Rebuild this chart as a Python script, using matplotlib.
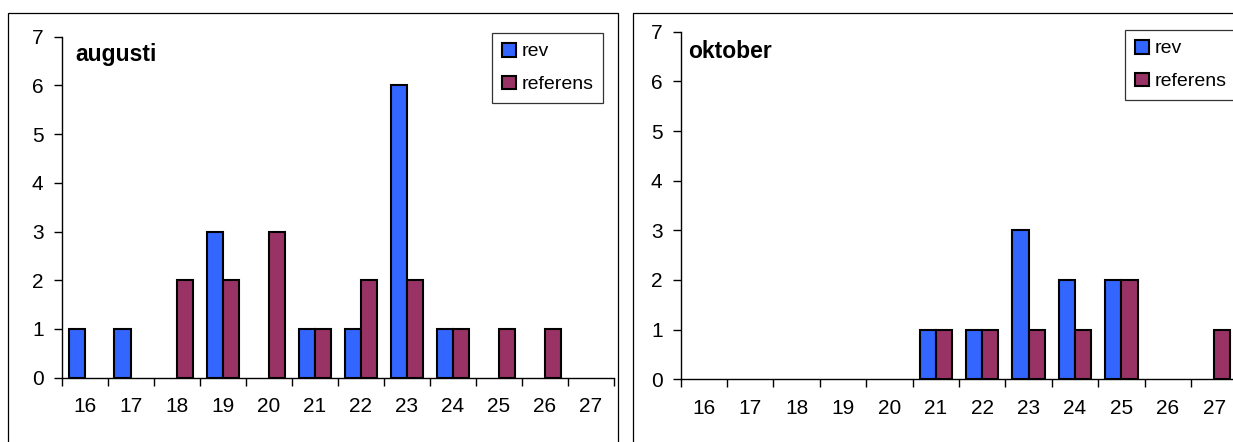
import matplotlib
matplotlib.use("Agg")
from matplotlib import pyplot as plt
from matplotlib.patches import Rectangle
import numpy as np

plt.rcParams['font.family'] = ['Liberation Sans', 'DejaVu Sans']

days = ["16", "17", "18", "19", "20", "21", "22", "23", "24", "25", "26", "27"]
aug_rev = [1, 1, 0, 3, 0, 1, 1, 6, 1, 0, 0, 0]
aug_ref = [0, 0, 2, 2, 3, 1, 2, 2, 1, 1, 1, 0]
okt_rev = [0, 0, 0, 0, 0, 1, 1, 3, 2, 2, 0, 0]
okt_ref = [0, 0, 0, 0, 0, 1, 1, 1, 1, 2, 0, 1]

blue = "#3366ff"
maroon = "#993366"
W, H = 1233, 442

fig = plt.figure(figsize=(W / 100, H / 100), dpi=100)

# outer chart frames (pixel coords -> figure fraction)
for x0, x1 in [(8, 618), (633, 1240)]:
    fig.add_artist(Rectangle((x0 / W, -0.1), (x1 - x0) / W, 1.1 - 13 / H,
                             transform=fig.transFigure, fill=False,
                             edgecolor="black", linewidth=0.9))


def panel(left, y0, y7, step, title, title_xy, rev, ref, leg_xy):
    ax = fig.add_axes([left / W, (H - y0) / H, 12 * step / W, (y0 - y7) / H])
    x = np.arange(len(days))
    rev = np.array(rev)
    ref = np.array(ref)
    w = 0.35
    # empty days get no bar at all (like the original)
    ax.bar(x[rev > 0] - w / 2, rev[rev > 0], w, color=blue, edgecolor="black",
           linewidth=1.5, label="rev")
    ax.bar(x[ref > 0] + w / 2, ref[ref > 0], w, color=maroon, edgecolor="black",
           linewidth=1.5, label="referens")
    ax.set_xlim(-0.5, 11.5)
    ax.set_ylim(0, 7)
    ax.set_yticks(range(8))
    ax.set_xticks(np.arange(13) - 0.5)
    ax.set_xticklabels([])
    ax.set_xticks(x, minor=True)
    ax.set_xticklabels(days, minor=True)
    ax.tick_params(axis="x", which="major", length=6, width=1, direction="out")
    ax.tick_params(axis="x", which="minor", length=0, pad=14, labelsize=15)
    ax.tick_params(axis="y", length=6, width=1, labelsize=15, pad=7)
    for s in ["top", "right"]:
        ax.spines[s].set_visible(False)
    for s in ["left", "bottom"]:
        ax.spines[s].set_linewidth(1)
        ax.spines[s].set_zorder(3)
    ax.patch.set_alpha(0)
    fig.text(title_xy[0] / W, (H - title_xy[1]) / H, title, fontsize=16.5,
             fontweight="bold", va="center", ha="left")
    leg = ax.legend(loc="upper left", bbox_to_anchor=(leg_xy[0] / W, (H - leg_xy[1]) / H),
                    bbox_transform=fig.transFigure, fontsize=14, frameon=True,
                    fancybox=False, edgecolor="black", handlelength=0.72,
                    handleheight=0.72, handletextpad=0.3, labelspacing=0.78,
                    borderpad=0.5, borderaxespad=0)
    leg.get_frame().set_linewidth(0.9)
    return ax


panel(61.6, 377.7, 36.7, 46.0, "augusti", (75, 55), aug_rev, aug_ref, (492, 33))
panel(680.6, 379.3, 31.7, 46.4, "oktober", (688, 52), okt_rev, okt_ref, (1125, 30))

fig.savefig("out.png", dpi=100)
